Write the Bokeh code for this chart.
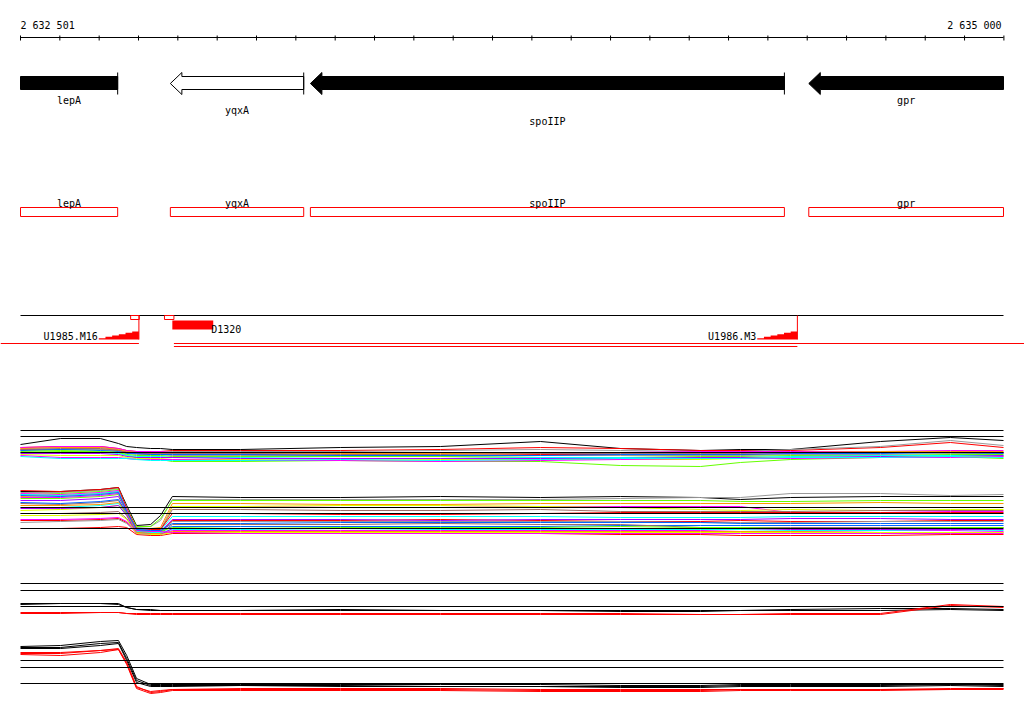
import numpy as np
from bokeh.plotting import figure
from bokeh.models import Range1d
from bokeh.core.properties import value
from bokeh.embed import file_html
from bokeh.resources import INLINE

# ---------------- data ----------------
VIEW_START = 2632501
VIEW_END = 2635000
TICK_STEP = 100
scale_labels = ["2 632 501", "2 635 000"]

gene_names = ["lepA", "yqxA", "spoIIP", "gpr"]
gene_left = [2632501, 2632882, 2633238, 2634505]
gene_right = [2632748, 2633221, 2634443, 2635000]
gene_fill = ["black", "white", "black", "black"]
gene_head_visible = [False, True, True, True]    # 3' end (arrow head) inside view
gene_start_visible = [True, True, True, False]   # 5' start inside view

term_names = ["U1985.M16", "U1986.M3"]
term_start = [2632700, 2634374]
term_end = [2632802, 2634476]
probe_box_start = [2632781, 2632867]
probe_box_end = [2632803, 2632891]
seg_names = ["D1320"]
seg_start = [2632887]
seg_end = [2632991]
tu_long_start = [None, 2632891]   # None = runs in from the left edge
tu_long_end = [2632802, None]     # None = runs out to the right edge
tu_short_start = [2632891]
tu_short_end = [2634476]

# probe positions of expression profiles
probe_pos = [2632501, 2632603, 2632704, 2632750, 2632771, 2632796, 2632832,
             2632857, 2632887, 2633060, 2633315, 2633569, 2633823, 2634026,
             2634230, 2634331, 2634459, 2634687, 2634865, 2635000]

RED = "#FF0000"; MAG = "#FF00FF"; LIME = "#66FF00"; CYAN = "#00FFFF"
BLUE = "#0066FF"; ORANGE = "#FF9900"; YEL = "#DDFF00"; GRAY = "#999999"
BROWN = "#9E6B66"; PURPLE = "#AA00FF"; BLACK = "#000000"

panelA_top_colors = [BLACK, RED, GRAY, MAG, ORANGE, RED, BROWN, GRAY, BLUE,
                     LIME, LIME, CYAN, PURPLE, YEL, MAG, CYAN]
panelA_top_values = [
    [444,438,438,443,446,447,448,448,449,449,447,446,441,448,450,449,449,441,437,440],
    [447,446,446,448,450,451,451,451,450,450,450,449,447,448,450,450,450,447,442,447],
    [448,447,447,449,451,452,452,452,451,451,451,450,449,450,451,451,449,446,440,445],
    [447,446,446,448,450,451,451,451,452,452,452,452,452,452,451,451,451,451,450,450],
    [448,447,447,449,451,452,452,452,452,453,453,453,453,452,452,452,452,451,451,451],
    [449,449,449,450,452,453,453,453,453,454,455,455,454,454,454,454,453,452,452,452],
    [449,448,448,450,452,452,453,453,453,453,454,454,453,453,453,453,452,452,452,452],
    [450,449,449,451,453,454,454,454,455,455,455,456,455,455,455,455,454,454,453,453],
    [450,449,450,451,453,453,454,454,454,454,455,455,455,454,454,454,453,453,452,453],
    [451,450,451,452,454,455,455,455,456,456,456,456,457,457,456,456,455,455,454,454],
    [452,451,451,452,455,457,458,459,461,461,460,461,461,465,466,462,459,457,456,458],
    [452,452,452,453,455,456,456,456,457,457,458,458,457,457,457,457,456,455,455,455],
    [453,453,453,454,456,457,457,457,457,458,458,458,458,458,457,457,457,456,456,455],
    [454,455,455,455,457,458,458,458,459,459,460,459,459,459,459,458,457,457,456,456],
    [455,457,457,457,458,459,459,459,459,460,460,461,460,459,458,458,458,457,457,456],
    [456,458,458,458,458,459,460,460,460,460,459,460,459,458,458,458,457,457,456,457],
]

panelA_low_colors = [BLACK, GRAY, LIME, ORANGE, MAG, YEL, BROWN, RED, CYAN, RED,
                     PURPLE, GRAY, BLUE, BROWN, LIME, MAG, CYAN, RED, ORANGE,
                     PURPLE, YEL, MAG, BLUE]
panelA_low_values = [
    [491,491,489,487,505,525,524,515,496,497,497,496,497,496,497,499,497,496,496,496],
    [492,492,490,488,507,527,526,520,499,499,499,499,499,498,497,497,493,493,495,494],
    [494,493,491,489,508,526,526,518,500,500,500,500,500,500,500,501,501,500,500,500],
    [496,495,493,491,510,528,528,527,503,503,504,504,503,503,503,503,503,502,503,503],
    [493,494,492,490,510,529,529,529,506,506,507,507,506,506,506,506,512,512,511,511],
    [510,509,507,505,515,530,531,530,506,506,505,505,506,507,509,510,509,510,509,509],
    [503,504,502,500,514,530,530,530,509,509,510,510,509,511,511,511,511,510,510,510],
    [490,491,489,487,508,528,529,529,513,513,514,514,513,512,512,512,512,512,512,512],
    [494,495,493,491,510,529,530,530,516,516,516,516,516,517,517,517,516,516,516,516],
    [520,520,519,518,522,531,532,532,520,520,520,519,520,521,521,520,521,521,520,520],
    [500,500,498,496,512,531,532,531,519,519,519,520,519,519,519,519,518,518,519,519],
    [522,521,520,519,523,532,532,532,521,521,521,521,521,521,522,522,522,521,521,521],
    [502,503,501,499,513,530,531,531,526,526,526,526,526,525,525,525,525,525,525,525],
    [513,513,512,511,518,532,533,533,524,524,524,523,524,524,527,527,527,527,527,527],
    [498,498,496,494,511,531,531,531,527,528,527,527,527,526,527,527,528,528,527,527],
    [519,519,518,517,521,533,534,534,530,530,530,530,530,530,530,531,531,530,530,531],
    [507,507,505,503,514,531,532,532,529,529,528,529,529,529,529,529,530,530,529,530],
    [528,528,527,526,527,534,535,535,533,533,533,533,533,534,534,535,535,535,534,534],
    [505,505,504,502,513,532,533,533,531,531,531,531,531,531,531,531,531,532,532,532],
    [508,508,507,505,515,533,534,534,528,528,528,528,528,528,528,528,529,529,529,529],
    [515,515,514,513,519,533,534,534,532,532,532,532,532,532,532,532,532,532,532,532],
    [497,497,495,493,509,530,531,531,532,533,533,533,533,533,533,533,533,533,533,533],
    [495,496,494,492,511,529,530,530,523,523,522,522,522,522,522,523,523,523,523,523],
]

panelB_top_colors = [BLACK, BLACK, RED, RED]
panelB_top_values = [
    [604,603,603,603,607,609,610,610,610,610,610,610,610,610,610,610,610,610,609,610],
    [603,603,603,604,607,609,609,610,610,610,609,610,610,611,611,610,609,608,608,609],
    [612,612,612,612,613,613,613,613,613,613,613,613,613,613,614,614,613,613,604,606],
    [613,613,612,612,613,614,614,614,614,614,614,614,614,614,614,614,614,614,605,607],
]

panelB_low_colors = [BLACK, BLACK, BLACK, RED, RED, RED]
panelB_low_values = [
    [646,645,641,640,655,678,684,684,684,684,684,684,684,685,685,684,684,684,684,684],
    [647,647,643,642,658,680,685,685,685,685,685,686,686,686,686,685,685,685,684,685],
    [648,648,645,643,660,682,686,686,686,685,686,686,686,687,687,686,686,686,685,686],
    [653,653,650,648,662,686,692,691,689,689,689,689,690,690,690,689,689,689,689,688],
    [654,655,652,649,664,688,693,692,690,690,690,690,691,691,691,690,690,690,689,689],
    [652,652,650,649,663,687,691,690,689,688,688,688,689,689,689,689,689,689,688,688],
]

# ---------------- layout / style ----------------
W, H = 1024, 714
BP_PER_PX = (VIEW_END - VIEW_START) / 983.0
X0 = VIEW_START - 20.0 * BP_PER_PX
X1 = X0 + W * BP_PER_PX
FONT = value("DejaVu Sans Mono")
FS = "10px"

panelA_ref_rows = [430, 436, 452, 507, 513, 528]
panelB_ref_rows = [583, 590, 606, 660, 667, 683]
gene_label_rows = [100, 110, 121, 100]

p = figure(width=W, height=H, x_range=Range1d(X0, X1),
           y_range=Range1d(H, 0), output_backend="svg",
           toolbar_location=None, x_axis_type=None, y_axis_type=None,
           min_border=0)
p.outline_line_color = None
p.background_fill_color = "white"
p.border_fill_color = "white"

# ---- top scale ----
ticks = np.arange(VIEW_START, VIEW_END + TICK_STEP, TICK_STEP)
p.segment(x0=[VIEW_START], y0=[37], x1=[VIEW_END], y1=[37], line_color="black", line_width=1)
p.segment(x0=ticks, y0=35, x1=ticks, y1=40, line_color="black", line_width=1)
p.text(x=[VIEW_START], y=[25], text=[scale_labels[0]], text_font=FONT,
       text_font_size=FS, text_align="left", text_baseline="alphabetic", color="black")
p.text(x=[VIEW_END], y=[25], text=[scale_labels[1]], text_font=FONT,
       text_font_size=FS, text_align="right", text_baseline="alphabetic", color="black",
       x_offset=-2)

# ---- gene arrows ----
HEAD = 11.5 * BP_PER_PX
for name, l, r, fill, head, start in zip(gene_names, gene_left, gene_right,
                                          gene_fill, gene_head_visible, gene_start_visible):
    if head:
        xs = [l, l + HEAD, l + HEAD, r, r, l + HEAD, l + HEAD]
        ys = [83, 72, 76, 76, 89, 89, 94]
    else:
        xs = [l, r, r, l]
        ys = [76, 76, 89, 89]
    p.patch(xs, ys, fill_color=fill, line_color="black", line_width=1)
    if start:
        p.segment(x0=[r], y0=[72], x1=[r], y1=[94], line_color="black", line_width=1)

centers = [(l + r) / 2 for l, r in zip(gene_left, gene_right)]
p.text(x=centers, y=gene_label_rows, text=gene_names, text_font=FONT, text_font_size=FS,
       text_align="center", text_baseline="alphabetic", color="black")

# ---- second row: red gene boxes ----
p.quad(left=gene_left, right=gene_right, top=[207] * 4, bottom=[216] * 4,
       fill_color=None, line_color=RED, line_width=1)
p.text(x=centers, y=[203] * 4, text=gene_names, text_font=FONT, text_font_size=FS,
       text_align="center", text_baseline="alphabetic", color="black")

# ---- third row: transcription features ----
p.segment(x0=[VIEW_START], y0=[315], x1=[VIEW_END], y1=[315], line_color="black", line_width=1)
p.quad(left=probe_box_start, right=probe_box_end, top=[315] * 2, bottom=[319] * 2,
       fill_color=None, line_color=RED, line_width=1)
STEPS = 6
for s, e in zip(term_start, term_end):
    w = (e - s) / STEPS
    xs = [s]
    ys = [339]
    for i in range(STEPS):
        h = 339 - (i + 1) * 8.0 / STEPS
        xs += [s + i * w, s + (i + 1) * w]
        ys += [h, h]
    xs.append(e)
    ys.append(339)
    p.patch(xs, ys, fill_color=RED, line_color=None)
    p.segment(x0=[e], y0=[315], x1=[e], y1=[339], line_color=RED, line_width=1)
p.text(x=term_start, y=[336] * 2, text=term_names, text_font=FONT, text_font_size=FS,
       text_align="right", text_baseline="alphabetic", color="black", x_offset=-1)
p.quad(left=seg_start, right=seg_end, top=[320], bottom=[329],
       fill_color=RED, line_color=None)
p.text(x=seg_end, y=[329], text=seg_names, text_font=FONT, text_font_size=FS,
       text_align="left", text_baseline="alphabetic", color="black", x_offset=-2)
lx0 = [X0 if v is None else v for v in tu_long_start]
lx1 = [X1 if v is None else v for v in tu_long_end]
p.segment(x0=lx0, y0=[343] * len(lx0), x1=lx1, y1=[343] * len(lx1), line_color=RED, line_width=1)
p.segment(x0=tu_short_start, y0=[346], x1=tu_short_end, y1=[346], line_color=RED, line_width=1)

# ---- expression profiles ----
for vals, cols in [(panelA_top_values, panelA_top_colors),
                   (panelA_low_values, panelA_low_colors),
                   (panelB_top_values, panelB_top_colors),
                   (panelB_low_values, panelB_low_colors)]:
    p.multi_line(xs=[probe_pos] * len(vals), ys=vals, line_color=cols, line_width=1)

refs = panelA_ref_rows + panelB_ref_rows
p.segment(x0=[VIEW_START] * len(refs), y0=refs, x1=[VIEW_END] * len(refs), y1=refs,
          line_color="black", line_width=1)

open("out.html", "w").write(file_html(p, INLINE))
